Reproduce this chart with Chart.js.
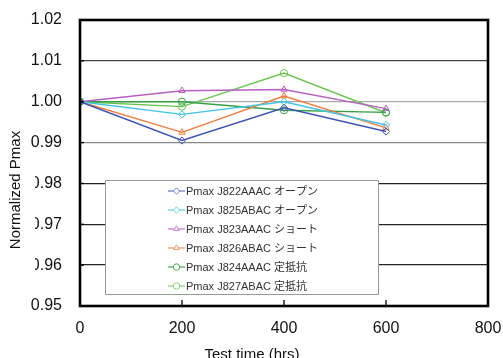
<!DOCTYPE html>
<html lang="ja">
<head>
    <meta charset="UTF-8">
    <title>Normalized Pmax</title>
    <style>
        html, body { margin: 0; padding: 0; background: #fff; overflow: hidden; }
        #wrap { width: 503px; height: 358px; overflow: hidden; }
        canvas { display: block; }
    </style>
</head>
<body>
    <div id="wrap">
        <canvas id="pmaxChart" width="515" height="364"></canvas>
    </div>
    <script src="https://cdn.jsdelivr.net/npm/chart.js"></script>
    <script>
        // test time (hrs)
        const hours = [0, 200, 400, 600];
        const seriesNames = [
            'Pmax J822AAAC オープン',
            'Pmax J825ABAC オープン',
            'Pmax J823AAAC ショート',
            'Pmax J826ABAC ショート',
            'Pmax J824AAAC 定抵抗',
            'Pmax J827ABAC 定抵抗'
        ];
        const j822 = [1.0000, 0.9905, 0.9985, 0.9927];
        const j825 = [1.0000, 0.9969, 1.0000, 0.9943];
        const j823 = [1.0000, 1.0027, 1.0030, 0.9983];
        const j826 = [1.0000, 0.9925, 1.0014, 0.9936];
        const j824 = [1.0000, 1.0000, 0.9979, 0.9974];
        const j827 = [1.0000, 0.9988, 1.0070, 0.9973];
        const yTickValues = [0.95, 0.96, 0.97, 0.98, 0.99, 1.00, 1.01, 1.02];
        const xTickValues = [0, 200, 400, 600, 800];
        const xTitle = 'Test time (hrs)';
        const yTitle = 'Normalized Pmax';

        const colors = ['#3d52b4', '#45c3e6', '#b85ec0', '#f07a3c', '#35a045', '#6cc450'];
        const legendColors = ['#6f7fd0', '#6fd3f0', '#c981cc', '#f39a6a', '#52ac5c', '#8cd47c'];
        const shapes = ['rectRot', 'rectRot', 'triangle', 'triangle', 'circle', 'circle'];
        const allSeries = [j822, j825, j823, j826, j824, j827];

        const datasets = allSeries.map((vals, i) => ({
            label: seriesNames[i],
            data: hours.map((h, k) => ({ x: h, y: vals[k] })),
            borderColor: colors[i],
            borderWidth: 1.4,
            pointStyle: shapes[i],
            pointRadius: 3.6,
            pointBorderWidth: 1,
            pointBackgroundColor: 'rgba(255,255,255,0)',
            pointBorderColor: colors[i],
            tension: 0
        }));

        const gridColor = v => {
            const k = Math.round(v * 1000);
            if (k % 10 !== 0) return 'rgba(0,0,0,0)';
            if (k === 1010) return '#444';
            if (k === 1000) return '#aaa';
            if (k === 990) return '#888';
            return '#222';
        };

        const tickFont = { family: '"Liberation Sans", Arial, sans-serif', size: 16 };

        // frame, inner tick marks and the boxed legend
        const framePlugin = {
            id: 'frame',
            afterDatasetsDraw(chart) {
                const ctx = chart.ctx;
                const ca = chart.chartArea;
                const xs = chart.scales.x, ys = chart.scales.y;
                ctx.save();
                ctx.strokeStyle = '#000';
                ctx.lineWidth = 1.3;
                ys.ticks.forEach(t => {
                    const py = ys.getPixelForValue(t.value);
                    ctx.beginPath();
                    ctx.moveTo(ca.left, py);
                    ctx.lineTo(ca.left + 4, py);
                    ctx.stroke();
                });
                xs.ticks.forEach(t => {
                    const px = xs.getPixelForValue(t.value);
                    ctx.beginPath();
                    ctx.moveTo(px, ca.bottom);
                    ctx.lineTo(px, ca.bottom - 6);
                    ctx.stroke();
                });
                ctx.lineWidth = 2.6;
                ctx.strokeRect(ca.left, ca.top, ca.right - ca.left, ca.bottom - ca.top);

                // legend
                const bx = ca.left + 25, by = ca.top + 160, bw = 273, bh = 114;
                ctx.fillStyle = '#fff';
                ctx.fillRect(bx, by, bw, bh);
                ctx.lineWidth = 1;
                ctx.strokeStyle = '#999';
                ctx.strokeRect(bx + 0.5, by + 0.5, bw, bh);
                ctx.font = '11px "Liberation Sans", Arial, "Noto Sans CJK JP", sans-serif';
                ctx.textBaseline = 'middle';
                ctx.textAlign = 'left';
                chart.data.datasets.forEach((ds, i) => {
                    const ry = by + 11 + i * 19;
                    const lx = bx + 63;
                    ctx.strokeStyle = legendColors[i];
                    ctx.lineWidth = 1.3;
                    ctx.beginPath();
                    ctx.moveTo(lx, ry);
                    ctx.lineTo(lx + 17, ry);
                    ctx.stroke();
                    ctx.fillStyle = '#fff';
                    ctx.lineWidth = 1;
                    Chart.helpers.drawPoint(ctx, {
                        pointStyle: shapes[i], radius: 3.2, borderWidth: 1
                    }, lx + 8.5, ry);
                    ctx.fillStyle = '#333';
                    ctx.fillText(ds.label, lx + 18, ry + 0.5);
                });
                ctx.restore();
            },
            afterDraw(chart) {
                // axis titles (the y title sits on a white box, as in the original)
                const ctx = chart.ctx;
                const ca = chart.chartArea;
                ctx.save();
                ctx.font = '15px "Liberation Sans", Arial, sans-serif';
                ctx.textAlign = 'center';
                ctx.textBaseline = 'middle';
                ctx.fillStyle = '#fff';
                ctx.fillRect(0, ca.top + 152, 35, 108);
                ctx.fillStyle = '#111';
                ctx.fillText(xTitle, 252, 355);
                ctx.translate(16, ca.top + 170);
                ctx.rotate(-Math.PI / 2);
                ctx.fillText(yTitle, 0, 0);
                ctx.restore();
            }
        };

        const ctx = document.getElementById('pmaxChart').getContext('2d');
        new Chart(ctx, {
            type: 'line',
            data: { datasets },
            options: {
                responsive: false,
                animation: false,
                devicePixelRatio: 1,
                layout: { padding: { top: 20, right: 27, left: 0, bottom: 0 } },
                plugins: { legend: { display: false }, tooltip: { enabled: false } },
                scales: {
                    x: {
                        type: 'linear',
                        min: 0, max: 800,
                        afterBuildTicks: s => { s.ticks = xTickValues.map(v => ({ value: v })); },
                        afterFit: s => { s.height = 58; },
                        grid: { display: false, drawTicks: false },
                        border: { display: false },
                        ticks: {
                            padding: 13,
                            color: '#111',
                            maxRotation: 0,
                            font: tickFont,
                            callback: v => String(v)
                        }
                    },
                    y: {
                        min: 0.95, max: 1.02,
                        ticks: {
                            stepSize: 0.005,
                            padding: 18,
                            color: '#111',
                            font: tickFont,
                            callback: v => {
                                const k = Math.round(v * 1000);
                                return (k % 10 === 0 && yTickValues.some(t => Math.round(t * 1000) === k)) ? (k / 1000).toFixed(2) : '';
                            }
                        },
                        afterFit: s => { s.width = 80; s.paddingTop = 0; s.paddingBottom = 0; },
                        grid: {
                            drawTicks: false,
                            lineWidth: 1.3,
                            color: c => gridColor(c.tick.value)
                        },
                        border: { display: false }
                    }
                }
            },
            plugins: [framePlugin]
        });
    </script>
</body>
</html>
